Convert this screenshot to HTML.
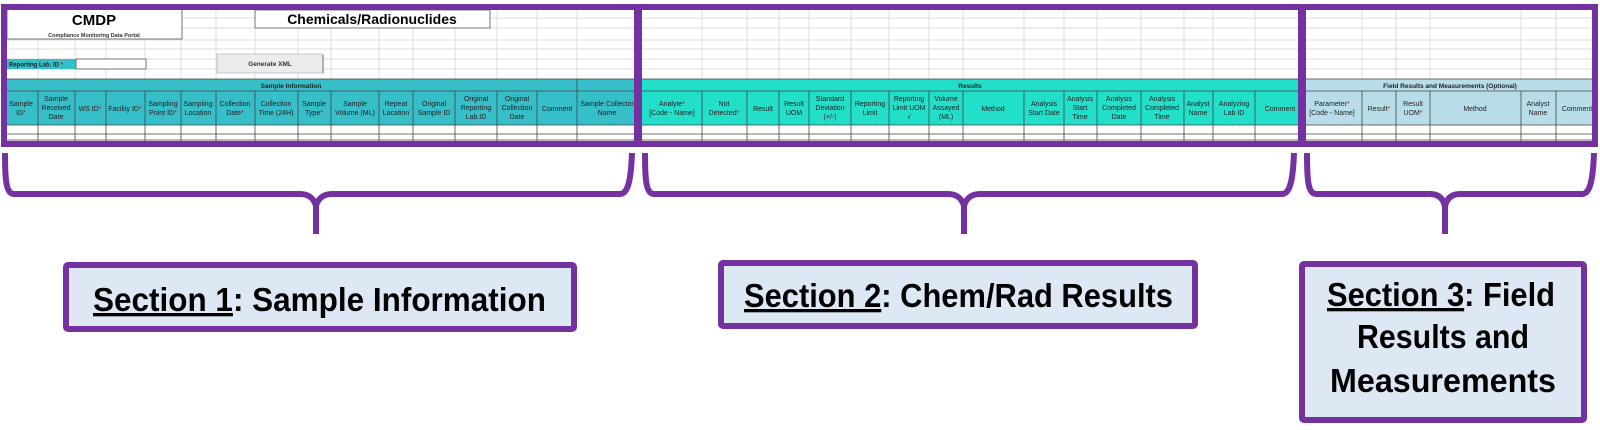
<!DOCTYPE html>
<html><head><meta charset="utf-8"><style>
html,body{margin:0;padding:0;background:#fff;width:1600px;height:430px;overflow:hidden}
svg{display:block}
.h{font-family:"Liberation Sans",sans-serif;font-size:7px;fill:#222;text-anchor:middle}
.r{fill:#e00}
</style></head><body>
<svg width="1600" height="430" viewBox="0 0 1600 430" xmlns="http://www.w3.org/2000/svg">
<!-- faint grid top area -->
<g stroke="#dcdcdc" stroke-width="1">
<line x1="5" y1="28" x2="1598" y2="28"/><line x1="5" y1="40" x2="1598" y2="40"/><line x1="5" y1="49" x2="1598" y2="49"/><line x1="5" y1="59" x2="1598" y2="59"/><line x1="5" y1="69" x2="1598" y2="69"/><line x1="5" y1="18" x2="1598" y2="18"/>
<g id="vl">
<line x1="38" y1="5" x2="38" y2="80"/><line x1="75" y1="5" x2="75" y2="80"/><line x1="106" y1="5" x2="106" y2="80"/><line x1="145" y1="5" x2="145" y2="80"/><line x1="181" y1="5" x2="181" y2="80"/><line x1="216" y1="5" x2="216" y2="80"/><line x1="255" y1="5" x2="255" y2="80"/><line x1="298" y1="5" x2="298" y2="80"/><line x1="331" y1="5" x2="331" y2="80"/><line x1="379" y1="5" x2="379" y2="80"/><line x1="413" y1="5" x2="413" y2="80"/><line x1="455" y1="5" x2="455" y2="80"/><line x1="497" y1="5" x2="497" y2="80"/><line x1="537" y1="5" x2="537" y2="80"/><line x1="577" y1="5" x2="577" y2="80"/>
<line x1="702" y1="5" x2="702" y2="80"/><line x1="747" y1="5" x2="747" y2="80"/><line x1="779" y1="5" x2="779" y2="80"/><line x1="809" y1="5" x2="809" y2="80"/><line x1="851" y1="5" x2="851" y2="80"/><line x1="889" y1="5" x2="889" y2="80"/><line x1="929" y1="5" x2="929" y2="80"/><line x1="963" y1="5" x2="963" y2="80"/><line x1="1024" y1="5" x2="1024" y2="80"/><line x1="1064" y1="5" x2="1064" y2="80"/><line x1="1097" y1="5" x2="1097" y2="80"/><line x1="1141" y1="5" x2="1141" y2="80"/><line x1="1184" y1="5" x2="1184" y2="80"/><line x1="1213" y1="5" x2="1213" y2="80"/><line x1="1255" y1="5" x2="1255" y2="80"/>
<line x1="1362" y1="5" x2="1362" y2="80"/><line x1="1396" y1="5" x2="1396" y2="80"/><line x1="1430" y1="5" x2="1430" y2="80"/><line x1="1521" y1="5" x2="1521" y2="80"/><line x1="1556" y1="5" x2="1556" y2="80"/>
</g></g>
<!-- top widgets -->
<rect x="7" y="8" width="175" height="31" fill="#fff" stroke="#777" stroke-width="1"/>
<text x="94" y="25" font-family="Liberation Sans,sans-serif" font-weight="bold" font-size="15" text-anchor="middle">CMDP</text>
<text x="94" y="37" font-family="Liberation Sans,sans-serif" font-weight="bold" font-size="5.5" fill="#333" text-anchor="middle">Compliance Monitoring Data Portal</text>
<rect x="255" y="10" width="235" height="18" fill="#fff" stroke="#777" stroke-width="1"/>
<text x="372" y="24" font-family="Liberation Sans,sans-serif" font-weight="bold" font-size="14" text-anchor="middle">Chemicals/Radionuclides</text>
<rect x="7" y="59" width="69" height="10" fill="#33bfc8"/>
<text x="9" y="66.5" font-family="Liberation Sans,sans-serif" font-weight="bold" font-size="6" fill="#222">Reporting Lab. ID <tspan class="r">*</tspan></text>
<rect x="76" y="59" width="70" height="10" fill="#fff" stroke="#555" stroke-width="0.8"/>
<rect x="217" y="54" width="106" height="19" fill="#ececec" stroke="#bbb" stroke-width="0.8"/>
<line x1="323" y1="55" x2="323" y2="73" stroke="#999" stroke-width="1.5"/>
<text x="270" y="66" font-family="Liberation Sans,sans-serif" font-weight="bold" font-size="6.5" fill="#333" text-anchor="middle">Generate XML</text>
<!-- header bands -->
<rect x="5" y="79" width="633" height="46" fill="#36bfc8"/>
<rect x="638" y="79" width="664" height="46" fill="#22dfc9"/>
<rect x="1302" y="79" width="296" height="46" fill="#b8dde8"/>
<g stroke="#444" stroke-width="0.8" fill="none">
<line x1="5" y1="79" x2="1598" y2="79"/><line x1="5" y1="91" x2="1598" y2="91"/><line x1="5" y1="125" x2="1598" y2="125"/><line x1="5" y1="134" x2="1598" y2="134"/><line x1="5" y1="140" x2="1598" y2="140"/>
<line x1="577" y1="79" x2="577" y2="91"/>
<g id="cv">
<line x1="38" y1="91" x2="38" y2="142"/><line x1="75" y1="91" x2="75" y2="142"/><line x1="106" y1="91" x2="106" y2="142"/><line x1="145" y1="91" x2="145" y2="142"/><line x1="181" y1="91" x2="181" y2="142"/><line x1="216" y1="91" x2="216" y2="142"/><line x1="255" y1="91" x2="255" y2="142"/><line x1="298" y1="91" x2="298" y2="142"/><line x1="331" y1="91" x2="331" y2="142"/><line x1="379" y1="91" x2="379" y2="142"/><line x1="413" y1="91" x2="413" y2="142"/><line x1="455" y1="91" x2="455" y2="142"/><line x1="497" y1="91" x2="497" y2="142"/><line x1="537" y1="91" x2="537" y2="142"/><line x1="577" y1="91" x2="577" y2="142"/>
<line x1="702" y1="91" x2="702" y2="142"/><line x1="747" y1="91" x2="747" y2="142"/><line x1="779" y1="91" x2="779" y2="142"/><line x1="809" y1="91" x2="809" y2="142"/><line x1="851" y1="91" x2="851" y2="142"/><line x1="889" y1="91" x2="889" y2="142"/><line x1="929" y1="91" x2="929" y2="142"/><line x1="963" y1="91" x2="963" y2="142"/><line x1="1024" y1="91" x2="1024" y2="142"/><line x1="1064" y1="91" x2="1064" y2="142"/><line x1="1097" y1="91" x2="1097" y2="142"/><line x1="1141" y1="91" x2="1141" y2="142"/><line x1="1184" y1="91" x2="1184" y2="142"/><line x1="1213" y1="91" x2="1213" y2="142"/><line x1="1255" y1="91" x2="1255" y2="142"/>
<line x1="1362" y1="91" x2="1362" y2="142"/><line x1="1396" y1="91" x2="1396" y2="142"/><line x1="1430" y1="91" x2="1430" y2="142"/><line x1="1521" y1="91" x2="1521" y2="142"/><line x1="1556" y1="91" x2="1556" y2="142"/>
</g></g>
<g font-family="Liberation Sans,sans-serif" font-weight="bold" font-size="6.5" fill="#222" text-anchor="middle">
<text x="291" y="88">Sample Information</text>
<text x="970" y="88">Results</text>
<text x="1450" y="88">Field Results and Measurements (Optional)</text>
</g>
<g class="h">
<text x="21" y="106">Sample</text><text x="21" y="115">ID<tspan class="r">*</tspan></text>
<text x="56" y="101">Sample</text><text x="56" y="110">Received</text><text x="56" y="119">Date</text>
<text x="90" y="111">WS ID<tspan class="r">*</tspan></text>
<text x="125" y="111">Facility ID<tspan class="r">*</tspan></text>
<text x="163" y="106">Sampling</text><text x="163" y="115">Point ID<tspan class="r">*</tspan></text>
<text x="198" y="106">Sampling</text><text x="198" y="115">Location</text>
<text x="235" y="106">Collection</text><text x="235" y="115">Date<tspan class="r">*</tspan></text>
<text x="276" y="106">Collection</text><text x="276" y="115">Time (24H)</text>
<text x="314" y="106">Sample</text><text x="314" y="115">Type<tspan class="r">*</tspan></text>
<text x="355" y="106">Sample</text><text x="355" y="115">Volume (ML)</text>
<text x="396" y="106">Repeat</text><text x="396" y="115">Location</text>
<text x="434" y="106">Original</text><text x="434" y="115">Sample ID</text>
<text x="476" y="101">Original</text><text x="476" y="110">Reporting</text><text x="476" y="119">Lab.ID</text>
<text x="517" y="101">Original</text><text x="517" y="110">Collection</text><text x="517" y="119">Date</text>
<text x="557" y="111">Comment</text>
<text x="607" y="106">Sample Collector</text><text x="607" y="115">Name</text>
<text x="672" y="106">Analyte<tspan class="r">*</tspan></text><text x="672" y="115">[Code - Name]</text>
<text x="724" y="106">Not</text><text x="724" y="115">Detected<tspan class="r">*</tspan></text>
<text x="763" y="111">Result</text>
<text x="794" y="106">Result</text><text x="794" y="115">UOM</text>
<text x="830" y="101">Standard</text><text x="830" y="110">Deviation</text><text x="830" y="119">(+/-)</text>
<text x="870" y="106">Reporting</text><text x="870" y="115">Limit</text>
<text x="909" y="101">Reporting</text><text x="909" y="110">Limit UOM</text><text x="909" y="119">√</text>
<text x="946" y="101">Volume</text><text x="946" y="110">Assayed</text><text x="946" y="119">(ML)</text>
<text x="993" y="111">Method</text>
<text x="1044" y="106">Analysis</text><text x="1044" y="115">Start Date</text>
<text x="1080" y="101">Analysis</text><text x="1080" y="110">Start</text><text x="1080" y="119">Time</text>
<text x="1119" y="101">Analysis</text><text x="1119" y="110">Completed</text><text x="1119" y="119">Date</text>
<text x="1162" y="101">Analysis</text><text x="1162" y="110">Completed</text><text x="1162" y="119">Time</text>
<text x="1198" y="106">Analyst</text><text x="1198" y="115">Name</text>
<text x="1234" y="106">Analyzing</text><text x="1234" y="115">Lab ID</text>
<text x="1280" y="111">Comment</text>
<text x="1332" y="106">Parameter<tspan class="r">*</tspan></text><text x="1332" y="115">[Code - Name]</text>
<text x="1379" y="111">Result<tspan class="r">*</tspan></text>
<text x="1413" y="106">Result</text><text x="1413" y="115">UOM<tspan class="r">*</tspan></text>
<text x="1475" y="111">Method</text>
<text x="1538" y="106">Analyst</text><text x="1538" y="115">Name</text>
<text x="1577" y="111">Comment</text>
</g>
<!-- purple frames -->
<g fill="none" stroke="#7332a0" stroke-width="6">
<rect x="4" y="7" width="633" height="137"/>
<rect x="639" y="7" width="662" height="137"/>
<rect x="1303" y="7" width="292" height="137"/>
</g>
<!-- braces -->
<g fill="none" stroke="#7332a0" stroke-width="6" stroke-linejoin="round">
<path d="M5,153 C5,180 6,194 14,194 L300,194 C308,194 314,198 316,206 L316,234 M316,234 L316,206 C318,198 324,194 332,194 L620,194 C628,194 631,180 632,153"/>
<path d="M645,153 C645,180 646,194 654,194 L948,194 C956,194 962,198 964,206 L964,234 M964,206 C966,198 972,194 980,194 L1282,194 C1290,194 1293,180 1294,153"/>
<path d="M1307,153 C1307,180 1308,194 1316,194 L1430,194 C1438,194 1443,198 1445,206 L1445,234 M1445,206 C1447,198 1452,194 1460,194 L1582,194 C1590,194 1593,180 1594,153"/>
</g>
<!-- section boxes -->
<g fill="#dde8f4" stroke="#7332a0" stroke-width="6">
<rect x="66" y="265" width="508" height="64" rx="2"/>
<rect x="721" y="263" width="474" height="63" rx="2"/>
<rect x="1302" y="264" width="282" height="156" rx="2"/>
</g>
<g font-family="Liberation Sans,sans-serif" font-weight="bold" font-size="33" fill="#000">
<text x="93" y="311" textLength="453" lengthAdjust="spacingAndGlyphs"><tspan text-decoration="underline">Section 1</tspan>: Sample Information</text>
<text x="744" y="307" textLength="429" lengthAdjust="spacingAndGlyphs"><tspan text-decoration="underline">Section 2</tspan>: Chem/Rad Results</text>
<text x="1327" y="306" textLength="228" lengthAdjust="spacingAndGlyphs"><tspan text-decoration="underline">Section 3</tspan>: Field</text>
<text x="1443" y="348" text-anchor="middle" textLength="172" lengthAdjust="spacingAndGlyphs">Results and</text>
<text x="1443" y="392" text-anchor="middle" textLength="226" lengthAdjust="spacingAndGlyphs">Measurements</text>
</g>
</svg>
</body></html>
